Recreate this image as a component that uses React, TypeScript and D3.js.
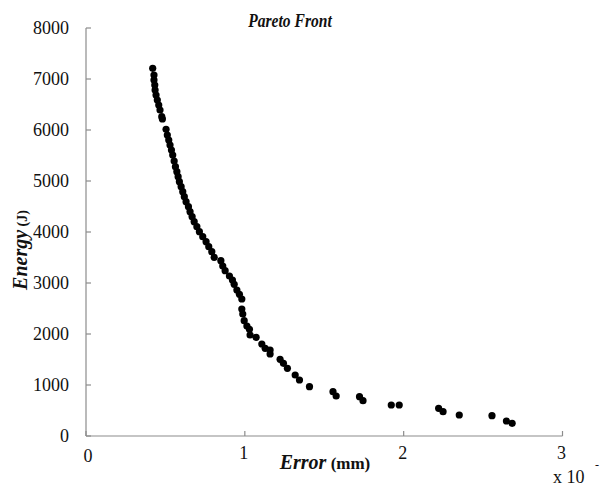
import React from "react";
import * as d3 from "d3";

const errorVals = [0.420,0.428,0.428,0.433,0.435,0.441,0.449,0.458,0.466,0.477,0.481,0.504,0.512,0.521,0.529,0.538,0.546,0.555,0.563,0.572,0.580,0.588,0.599,0.609,0.619,0.630,0.645,0.655,0.668,0.681,0.698,0.714,0.735,0.756,0.773,0.792,0.807,0.849,0.861,0.876,0.903,0.922,0.933,0.950,0.966,0.981,0.981,0.987,0.996,1.013,1.029,1.033,1.071,1.107,1.128,1.159,1.159,1.222,1.243,1.268,1.317,1.344,1.407,1.555,1.575,1.722,1.744,1.922,1.972,2.220,2.248,2.350,2.556,2.647,2.683];
const energyVals = [7210,7078,6980,6882,6784,6686,6588,6490,6392,6261,6216,6014,5902,5804,5706,5608,5510,5392,5280,5182,5084,4986,4888,4790,4692,4594,4496,4398,4300,4202,4104,4006,3908,3810,3712,3614,3504,3437,3333,3241,3137,3059,2975,2863,2778,2686,2490,2392,2261,2157,2092,1980,1935,1804,1720,1686,1608,1504,1425,1327,1196,1098,967,869,784,771,692,608,608,543,476,412,398,294,249];
const xTicks = [0, 1, 2, 3];
const yTicks = [0, 1000, 2000, 3000, 4000, 5000, 6000, 7000, 8000];

const W = 603, H = 488;
const left = 86, right = 562.5, top = 28, bottom = 436;
const font = "'Liberation Serif', 'Times New Roman', serif";
const axisColor = "#8c8c8c";

export default function App() {
  const x = d3.scaleLinear().domain([0, 3]).range([left, right]);
  const y = d3.scaleLinear().domain([0, 8000]).range([bottom, top]);
  return (
    <svg width={W} height={H} style={{ position: "absolute", left: 0, top: 0, background: "#fff" }} fontFamily={font}>
      <rect x={0} y={0} width={W} height={H} fill="#fff" />
      {/* axes */}
      <line x1={left} y1={top} x2={left} y2={bottom} stroke={axisColor} strokeWidth={1.2} />
      <line x1={left} y1={bottom} x2={right} y2={bottom} stroke={axisColor} strokeWidth={1.2} />
      {yTicks.map((t) => (
        <g key={"y" + t}>
          <line x1={left} x2={left + 5} y1={y(t)} y2={y(t)} stroke={axisColor} strokeWidth={1.2} />
          <text x={left - 17} y={y(t)} dy="0.34em" textAnchor="end" fontSize={18} fill="#111">{t}</text>
        </g>
      ))}
      {xTicks.map((t) => (
        <g key={"x" + t}>
          <line x1={x(t)} x2={x(t)} y1={bottom} y2={bottom - 5} stroke={axisColor} strokeWidth={1.2} />
          <text x={x(t) + (t === 0 ? 2 : -1)} y={t === 0 ? 462 : 459} textAnchor="middle" fontSize={18} fill="#111">{t}</text>
        </g>
      ))}
      <text x={553} y={483} fontSize={18} fill="#111">x 10</text>
      <text x={595} y={469} fontSize={12} fill="#111">-</text>
      {/* title */}
      <text transform="translate(290,27) scale(0.82,1)" textAnchor="middle" fontSize={19} fontWeight="bold" fontStyle="italic" fill="#111">Pareto Front</text>
      {/* x label */}
      <text x={325} y={469} textAnchor="middle" fill="#111" fontWeight="bold">
        <tspan fontStyle="italic" fontSize={20}>Error</tspan>
        <tspan fontSize={17}> (mm)</tspan>
      </text>
      {/* y label */}
      <text transform="translate(27,250) rotate(-90)" textAnchor="middle" fill="#111" fontWeight="bold">
        <tspan fontStyle="italic" fontSize={20}>Energy</tspan>
        <tspan fontSize={14}> (J)</tspan>
      </text>
      {/* points */}
      {errorVals.map((e, i) => (
        <circle key={i} cx={x(e)} cy={y(energyVals[i])} r={3.6} fill="#000" />
      ))}
    </svg>
  );
}
